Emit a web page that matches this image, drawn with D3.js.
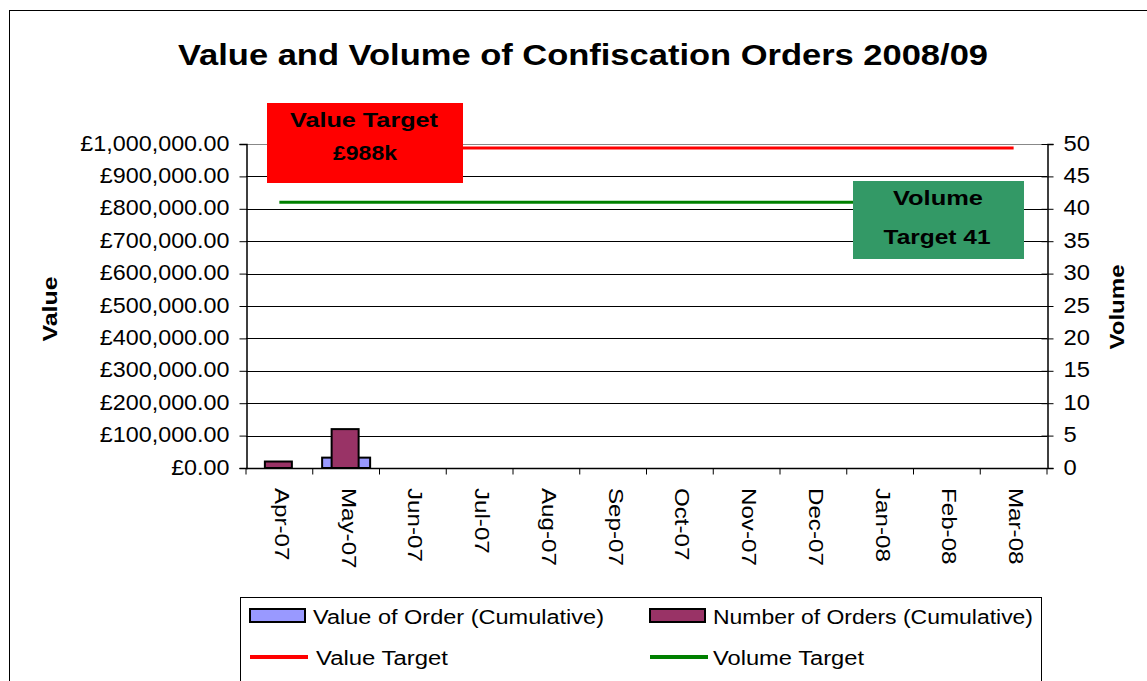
<!DOCTYPE html>
<html><head><meta charset="utf-8">
<script src="https://cdn.jsdelivr.net/npm/d3@7"></script>
<style>body{margin:0;background:#fff;}svg{display:block;font-family:"Liberation Sans",Arial,sans-serif;}</style>
</head><body><svg id="c" width="1147" height="681"></svg>
<script>
const months = ["Apr-07","May-07","Jun-07","Jul-07","Aug-07","Sep-07","Oct-07","Nov-07","Dec-07","Jan-08","Feb-08","Mar-08"];
const valueCumulative = [0, 32000, 0, 0, 0, 0, 0, 0, 0, 0, 0, 0];
const ordersCumulative = [1, 6, 0, 0, 0, 0, 0, 0, 0, 0, 0, 0];
const valueTarget = 988000;
const volumeTarget = 41;
const valueTicks = [0,100000,200000,300000,400000,500000,600000,700000,800000,900000,1000000];
const volumeTicks = [0,5,10,15,20,25,30,35,40,45,50];

const svg = d3.select("#c");
const L = 246, R = 1047, T = 144, B = 468;

function stretch(sel, k){ sel.each(function(){ const w=this.getComputedTextLength(); d3.select(this).attr("textLength",w*k).attr("lengthAdjust","spacingAndGlyphs"); }); return sel; }
function fitTo(sel, w){ return sel.attr("textLength",w).attr("lengthAdjust","spacingAndGlyphs"); }

svg.append("rect").attr("x",9.5).attr("y",10.5).attr("width",1150).attr("height",700)
  .attr("fill","#fff").attr("stroke","#000").attr("stroke-width",1);

fitTo(svg.append("text").attr("x",583).attr("y",65).attr("text-anchor","middle")
  .attr("font-size",29).attr("font-weight","bold").text("Value and Volume of Confiscation Orders 2008/09"), 810);

const x = d3.scaleBand().domain(months).range([L,R]).padding(0);
const yV = d3.scaleLinear().domain([0,1000000]).range([B,T]);
const yN = d3.scaleLinear().domain([0,50]).range([B,T]);

// gridlines
svg.append("g").selectAll("line").data(valueTicks.slice(1)).join("line")
  .attr("x1",L).attr("x2",R).attr("y1",d=>Math.round(yV(d))+0.5).attr("y2",d=>Math.round(yV(d))+0.5)
  .attr("stroke",d=> d===1000000 ? "#888" : "#000").attr("stroke-width",1);

// bars
const bwV = 48, bwN = 27;
svg.append("g").selectAll("rect").data(months).join("rect")
  .attr("x",d=>x(d)+x.bandwidth()/2-bwV/2)
  .attr("y",(d,i)=>yV(valueCumulative[i]))
  .attr("width",bwV).attr("height",(d,i)=>B-yV(valueCumulative[i]))
  .attr("fill","#9999FF").attr("stroke","#000").attr("stroke-width",2)
  .attr("display",(d,i)=>valueCumulative[i]>0?null:"none");
svg.append("g").selectAll("rect").data(months).join("rect")
  .attr("x",d=>x(d)+x.bandwidth()/2-bwN/2-1)
  .attr("y",(d,i)=>yN(ordersCumulative[i]))
  .attr("width",bwN).attr("height",(d,i)=>B-yN(ordersCumulative[i]))
  .attr("fill","#993366").attr("stroke","#000").attr("stroke-width",2)
  .attr("display",(d,i)=>ordersCumulative[i]>0?null:"none");

// target lines
const cx = d=>x(d)+x.bandwidth()/2;
svg.append("path").datum(months).attr("fill","none").attr("stroke","#FF0000").attr("stroke-width",3)
  .attr("d",d3.line().x(cx).y(()=>yV(valueTarget)));
svg.append("path").datum(months).attr("fill","none").attr("stroke","#008000").attr("stroke-width",3)
  .attr("d",d3.line().x(cx).y(()=>yN(volumeTarget)));

// axes
const fmt = d=>"£"+d3.format(",.2f")(d);
const ga = svg.append("g").attr("transform",`translate(${L+0.5},0)`)
  .call(d3.axisLeft(yV).tickValues(valueTicks).tickFormat(fmt).tickSize(7).tickPadding(10));
const gb = svg.append("g").attr("transform",`translate(${R+0.5},0)`)
  .call(d3.axisRight(yN).tickValues(volumeTicks).tickSize(6).tickPadding(10));
gb.selectAll(".tick line").attr("x1",-6);
const gx = svg.append("g").attr("transform",`translate(0,${B+0.5})`)
  .call(d3.axisBottom(x).tickSize(0).tickFormat(""));
gx.selectAll(".tick").remove();
gx.append("g").selectAll("line").data(d3.range(months.length+1)).join("line")
  .attr("x1",i=>L+i*x.bandwidth()).attr("x2",i=>L+i*x.bandwidth()).attr("y1",0).attr("y2",6).attr("stroke","#000");
[ga,gb,gx].forEach(g=>{g.selectAll(".domain").attr("stroke","#000").attr("stroke-width",1.5);
  g.selectAll(".tick line").attr("stroke","#000");
  g.selectAll("text").attr("font-size",22).attr("fill","#000").attr("font-family","'Liberation Sans',Arial,sans-serif").attr("dy","0.28em");});
gx.selectAll(".domain").attr("d",`M${L},0H${R}`);
stretch(ga.selectAll(".tick text"),1.06);
stretch(gb.selectAll(".tick text"),1.08);

stretch(svg.append("g").selectAll("text").data(months).join("text")
  .attr("transform",d=>`translate(${cx(d)+1},${B+20}) rotate(90)`)
  .attr("font-size",21).attr("dominant-baseline","middle").text(d=>d),1.15);

fitTo(svg.append("text").attr("transform","translate(57,309) rotate(-90)").attr("text-anchor","middle")
  .attr("font-size",21).attr("font-weight","bold").text("Value"),65);
fitTo(svg.append("text").attr("transform","translate(1124,307) rotate(-90)").attr("text-anchor","middle")
  .attr("font-size",21).attr("font-weight","bold").text("Volume"),85);

// annotation boxes
svg.append("rect").attr("x",267).attr("y",103).attr("width",196).attr("height",80).attr("fill","#FF0000");
fitTo(svg.append("text").attr("x",364).attr("y",127).attr("text-anchor","middle").attr("font-size",20).attr("font-weight","bold").text("Value Target"),148);
fitTo(svg.append("text").attr("x",365).attr("y",160).attr("text-anchor","middle").attr("font-size",20).attr("font-weight","bold").text("£988k"),64);
svg.append("rect").attr("x",853).attr("y",181).attr("width",171).attr("height",78).attr("fill","#339966");
fitTo(svg.append("text").attr("x",938).attr("y",205).attr("text-anchor","middle").attr("font-size",20).attr("font-weight","bold").text("Volume"),90);
fitTo(svg.append("text").attr("x",937).attr("y",244).attr("text-anchor","middle").attr("font-size",20).attr("font-weight","bold").text("Target 41"),107);

// legend
svg.append("rect").attr("x",240.5).attr("y",597.5).attr("width",801).attr("height",120).attr("fill","#fff").attr("stroke","#000");
const leg = [
  {t:"Value of Order (Cumulative)",type:"bar",c:"#9999FF",x:250,y:616,w:291,tx:313},
  {t:"Number of Orders (Cumulative)",type:"bar",c:"#993366",x:650,y:616,w:320,tx:713},
  {t:"Value Target",type:"line",c:"#FF0000",x:250,y:657,w:132,tx:316},
  {t:"Volume Target",type:"line",c:"#008000",x:650,y:657,w:151,tx:713}];
leg.forEach(l=>{
  if(l.type==="bar") svg.append("rect").attr("x",l.x).attr("y",l.y-7).attr("width",55).attr("height",13).attr("fill",l.c).attr("stroke","#000").attr("stroke-width",2);
  else svg.append("line").attr("x1",l.x).attr("x2",l.x+58).attr("y1",l.y).attr("y2",l.y).attr("stroke",l.c).attr("stroke-width",4);
  fitTo(svg.append("text").attr("x",l.tx).attr("y",l.y+8).attr("font-size",20).text(l.t), l.w);
});
</script></body></html>
